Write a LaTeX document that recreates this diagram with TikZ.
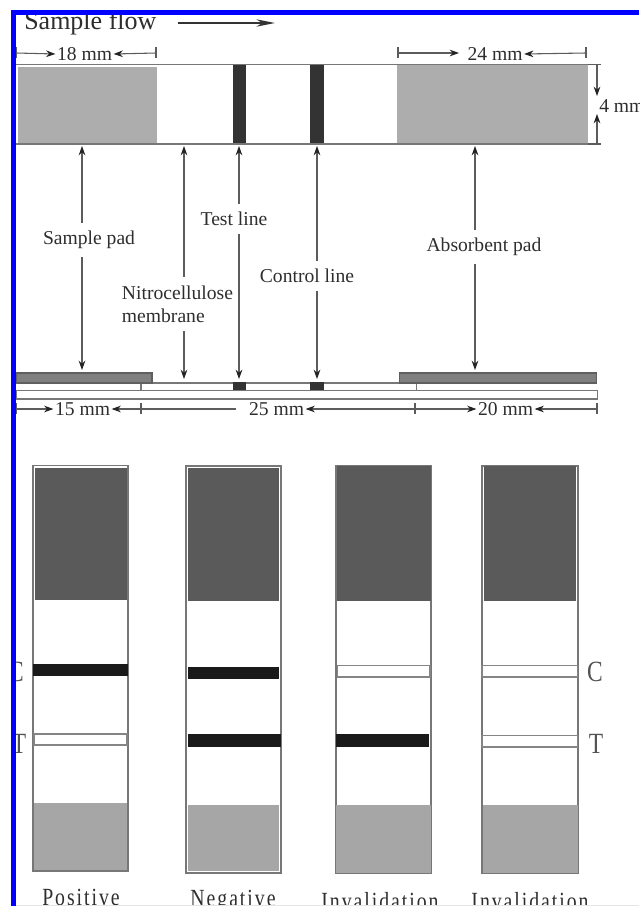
\documentclass[tikz,border=0pt]{standalone}
\usepackage{fontspec}
\usetikzlibrary{arrows.meta}
\setmainfont{Liberation Serif}
\newfontfamily\condfont[FakeStretch=0.8,LetterSpace=8]{Liberation Serif}
\definecolor{txt}{HTML}{2E2E2E}
\definecolor{frameg}{HTML}{777777}
\definecolor{padg}{HTML}{ADADAD}
\definecolor{padd}{HTML}{7F7F7F}
\definecolor{lined}{HTML}{333333}
\definecolor{conn}{HTML}{5C5C5C}
\definecolor{topd}{HTML}{5A5A5A}
\definecolor{lowg}{HTML}{A6A6A6}
\definecolor{band}{HTML}{1A1A1A}
\tikzset{
  tiphead/.tip={Stealth[length=7pt,width=5pt,color=lined!70!black]},
  lbl/.style={font=\fontsize{14.7}{17.5}\selectfont,text=txt,inner sep=1.5pt},
  lblfill/.style={lbl,fill=white,inner ysep=6pt},
  dimt/.style={lbl,inner sep=1pt},
  big/.style={text=txt,inner sep=0pt},
  cond/.style={font=\fontsize{18.5}{22}\condfont,text=txt,inner sep=0pt,anchor=base},
  condl/.style={font=\fontsize{22}{24}\condfont,text=frameg!70!black,inner sep=0pt},
  tipone/.style={-tiphead,draw=conn,line width=0.8pt},
  tiptwo/.style={tiphead-tiphead,draw=conn,line width=0.8pt},
  tick/.style={draw=conn,line width=0.8pt},
  stripline/.style={draw=frameg,line width=1pt},
  case/.style={draw=frameg,line width=1pt,fill=white},
  whiteband/.style={draw=frameg!90,line width=0.9pt,fill=white},
}
\begin{document}
\begin{tikzpicture}[x=0.75pt,y=-0.75pt]
\useasboundingbox (0,0) rectangle (639,906);
\fill[white] (0,0) rectangle (639,906);
% heading
\node[big,anchor=west,font=\fontsize{19.5}{22}\selectfont] (flow) at (24,23) {Sample flow};
\coordinate (fa) at (178,23); \coordinate (fb) at (275,23);
\draw[-{Stealth[length=14pt,width=5.5pt,color=lined]},draw=lined,line width=0.9pt] (fa) -- (fb);
% top strip
\fill[padg] (18,67) rectangle (157,143);
\fill[padg] (397,65) rectangle (588,144);
\fill[lined] (233,64) rectangle (246,144);
\fill[lined] (310,64) rectangle (324,144);
\draw[stripline] (16,64.5) -- (588,64.5);
\draw[stripline,line width=1.2pt] (16,144) -- (588,144);
% top dimensions
\coordinate (d18a) at (16,53); \coordinate (d18b) at (156,53);
\node[dimt] (t18) at (84.5,54) {18 mm};
\draw[tick] (16,47) -- (16,58) (156,47) -- (156,58);
\draw[tipone] (d18a) -- (t18.west);
\draw[tipone] (d18b) -- (t18.east);
\coordinate (d24a) at (398,53); \coordinate (d24b) at (586,53);
\coordinate (d24c) at (459,53);
\node[dimt] (t24) at (495,54) {24 mm};
\draw[tick] (398,47) -- (398,58) (586,47) -- (586,58);
\draw[tipone] (d24a) -- (d24c);
\draw[tipone] (d24b) -- (t24.east);
\draw[tick] (588,64.5) -- (601,64.5) (588,144) -- (601,144);
\node[dimt,anchor=west,inner sep=0pt] (t4) at (599,106) {4 mm};
\coordinate (d4a) at (597,65); \coordinate (d4b) at (597,144);
\coordinate (d4c) at (597,96); \coordinate (d4d) at (597,114);
\draw[tipone] (d4a) -- (d4c);
\draw[tipone] (d4b) -- (d4d);
% vertical pointers
\coordinate (p1a) at (82,146); \coordinate (p1b) at (82,370);
\coordinate (p2a) at (184,146); \coordinate (p2b) at (184,379);
\coordinate (p3a) at (239,146); \coordinate (p3b) at (239,379);
\coordinate (p4a) at (317,146); \coordinate (p4b) at (317,379);
\coordinate (p5a) at (475,146); \coordinate (p5b) at (475,370);
\draw[tiptwo] (p1a) -- (p1b);
\draw[tiptwo] (p2a) -- (p2b);
\draw[tiptwo] (p3a) -- (p3b);
\draw[tiptwo] (p4a) -- (p4b);
\draw[tiptwo] (p5a) -- (p5b);
\node[lblfill] (lsp) at (89,240) {Sample pad};
\node[lblfill,align=left] (lnc) at (177.5,304) {Nitrocellulose\\membrane};
\node[lblfill] (ltl) at (234,219) {Test line};
\node[lblfill] (lcl) at (307,276) {Control line};
\node[lblfill] (lap) at (484,247) {Absorbent pad};
% side strip
\draw[stripline,fill=white] (16,390.5) rectangle (597.5,399);
\draw[stripline] (16,383) -- (399,383) (16,390.5) -- (416,390.5) (141,383) -- (141,390.5) (416.5,383) -- (416.5,390.5);
\fill[lined] (233,382) rectangle (246,390);
\fill[lined] (310,382) rectangle (324,390);
\draw[draw=frameg!80!black,fill=padd,line width=0.8pt] (16,373) rectangle (152,383);
\draw[draw=frameg!80!black,fill=padd,line width=0.8pt] (399.5,373) rectangle (596.5,383);
% lower dimensions
\node[dimt] (t15) at (82.5,409) {15 mm};
\node[dimt] (t25) at (276.5,409) {25 mm};
\node[dimt] (t20) at (505.5,409) {20 mm};
\coordinate (b0) at (16,409); \coordinate (b1) at (141,409); \coordinate (b2) at (415,409); \coordinate (b3) at (597,409);
\coordinate (b4) at (236,409);
\draw[tick] (16,403) -- (16,414) (141,403) -- (141,414) (415,403) -- (415,414) (597,403) -- (597,414);
\draw[tipone] (b0) -- (t15.west);
\draw[tipone] (b1) -- (t15.east);
\draw[tick] (b1) -- (b4);
\draw[tipone] (b2) -- (t25.east);
\draw[tipone] (b2) -- (t20.west);
\draw[tipone] (b3) -- (t20.east);
% cassettes
% 1 positive
\draw[case] (33,465.5) rectangle (128,871);
\fill[topd] (35,468) rectangle (127,600);
\fill[band] (33,664) rectangle (128,676);
\draw[whiteband] (34,734) rectangle (127,745);
\fill[lowg] (34,803) rectangle (127,870);
% 2 negative
\draw[case] (186,466) rectangle (281,873);
\fill[topd] (188,468) rectangle (279,601);
\fill[band] (188,667) rectangle (279,679);
\fill[band] (188,734) rectangle (281,747);
\fill[lowg] (188,805) rectangle (279,871);
% 3 invalidation
\draw[case] (336,466) rectangle (431,873);
\fill[topd] (337,466) rectangle (431,601);
\draw[whiteband] (337.5,665.5) rectangle (430,677);
\fill[band] (336,734) rectangle (429,747);
\fill[lowg] (336,805) rectangle (431,873);
% 4 invalidation
\draw[case] (482,466) rectangle (578,873);
\fill[topd] (484,466) rectangle (576,601);
\draw[whiteband] (482,665.5) rectangle (577.5,677);
\draw[whiteband] (482,735.5) rectangle (577.5,747);
\fill[lowg] (483,805) rectangle (578,873);
% C / T labels
\node[condl] (cl) at (16,672) {C};
\node[condl] (tl) at (19,744) {T};
\node[condl] (cr) at (595,672) {C};
\node[condl] (tr) at (596,744) {T};
% captions
\node[cond] (c1) at (81,905) {Positive};
\node[cond] (c2) at (233,906) {Negative};
\node[cond] (c3) at (380,909) {Invalidation};
\node[cond] (c4) at (530,909) {Invalidation};
% frame
\fill[white] (16,905.5) rectangle (639,906);
\draw[draw=black!10,line width=0.6pt] (16,905.5) -- (639,905.5);
\fill[white] (0,0) rectangle (639,10);
\fill[blue] (11,10) rectangle (639,15);
\fill[blue] (11,10) rectangle (16,906);
\fill[white] (0,0) rectangle (11,906);
\end{tikzpicture}
\end{document}
